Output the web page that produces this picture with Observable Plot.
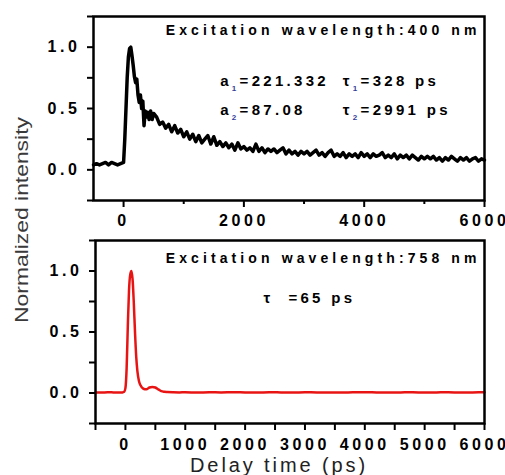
<!DOCTYPE html>
<html>
<head>
<meta charset="utf-8">
<script src="https://cdn.jsdelivr.net/npm/d3@7"></script>
<script src="https://cdn.jsdelivr.net/npm/@observablehq/plot@0.6"></script>
<style>
  html, body { margin: 0; padding: 0; background: #fff; }
  #wrap { position: relative; width: 505px; height: 475px; background: #fff; overflow: hidden; }
  #top { position: absolute; left: 0; top: 0; }
  #bot { position: absolute; left: 0; top: 230px; }
  #ylab { position: absolute; left: 22px; top: 220px; white-space: nowrap;
          transform: translate(-50%, -50%) rotate(-90deg) scaleX(1.27);
          font: 18px "Liberation Sans", Arial, sans-serif; color: #3a3a3a; line-height: 1; }
</style>
</head>
<body>
<div id="wrap">
  <div id="top"></div>
  <div id="bot"></div>
  <div id="ylab">Normalized intensity</div>
</div>
<script>
// ---------- data ----------
const titleTop = "Excitation wavelength:400 nm";
const titleBot = "Excitation wavelength:758 nm";
const annA1 = "a₁=221.332";
const annT1 = "τ₁=328 ps";
const annA2 = "a₂=87.08";
const annT2 = "τ₂=2991 ps";
const annBot = "τ  =65 ps";
const xLabel = "Delay time (ps)";
const yLabel = "Normalized intensity";

const yMajor = [0, 0.5, 1.0];
const yMinor = [-0.25, 0.25, 0.75, 1.25];
const xMajorTop = [0, 2000, 4000, 6000];
const xMinorTop = [1000, 3000, 5000];
const xMajorBot = [0, 1000, 2000, 3000, 4000, 5000, 6000];
const xMinorBot = [-500, 500, 1500, 2500, 3500, 4500, 5500];

// 400 nm excitation (black trace)
const tTop = [
  -500,-450,-400,-350,-300,-250,-200,-150,-100,-50,
  0,20,40,60,80,100,120,140,160,180,
  200,220,240,260,280,300,320,340,360,380,
  400,425,450,475,500,
  550,600,650,700,750,800,850,900,950,1000,
  1050,1100,1150,1200,1250,1300,1350,1400,1450,1500,
  1550,1600,1650,1700,1750,1800,1850,1900,1950,2000,
  2050,2100,2150,2200,2250,2300,2350,2400,2450,2500,
  2550,2600,2650,2700,2750,2800,2850,2900,2950,3000,
  3050,3100,3150,3200,3250,3300,3350,3400,3450,3500,
  3550,3600,3650,3700,3750,3800,3850,3900,3950,4000,
  4050,4100,4150,4200,4250,4300,4350,4400,4450,4500,
  4550,4600,4650,4700,4750,4800,4850,4900,4950,5000,
  5050,5100,5150,5200,5250,5300,5350,5400,5450,5500,
  5550,5600,5650,5700,5750,5800,5850,5900,5950,6000
];
const vTop = [
  0.04,0.05,0.04,0.05,0.06,0.04,0.06,0.05,0.04,0.05,
  0.06,0.25,0.50,0.75,0.92,0.99,1.00,0.93,0.85,0.76,
  0.71,0.74,0.61,0.55,0.61,0.50,0.56,0.36,0.48,0.43,
  0.47,0.41,0.48,0.41,0.46,
  0.43,0.37,0.39,0.34,0.37,0.31,0.36,0.30,0.33,0.27,
  0.31,0.25,0.29,0.23,0.28,0.22,0.25,0.28,0.21,0.27,
  0.20,0.23,0.19,0.22,0.18,0.21,0.16,0.22,0.17,0.19,
  0.16,0.18,0.15,0.21,0.15,0.18,0.14,0.17,0.15,0.17,
  0.14,0.16,0.18,0.13,0.16,0.13,0.15,0.12,0.15,0.13,
  0.15,0.12,0.14,0.16,0.12,0.14,0.11,0.14,0.16,0.11,
  0.13,0.11,0.14,0.10,0.13,0.11,0.13,0.10,0.14,0.11,
  0.13,0.10,0.13,0.11,0.12,0.14,0.10,0.12,0.10,0.13,
  0.09,0.12,0.10,0.12,0.09,0.12,0.10,0.08,0.11,0.09,
  0.11,0.09,0.11,0.08,0.10,0.07,0.10,0.08,0.11,0.09,
  0.07,0.10,0.08,0.10,0.07,0.09,0.10,0.07,0.09,0.08
];

// 758 nm excitation (red trace)
const tBot = [
  -500,-400,-300,-200,-100,-50,-20,0,
  20,40,60,80,100,120,140,160,180,200,
  225,250,300,350,400,450,500,550,600,650,700,
  800,900,1000,
  1200,1400,1600,1800,2000,2200,2400,2600,2800,3000,
  3200,3400,3600,3800,4000,4200,4400,4600,4800,5000,
  5200,5400,5600,5800,6000
];
const vBot = [
  0.005,0.004,0.006,0.005,0.004,0.005,0.01,0.04,
  0.20,0.55,0.84,0.97,1.00,0.93,0.74,0.50,0.30,0.18,
  0.10,0.065,0.035,0.03,0.045,0.05,0.045,0.03,0.015,0.01,0.008,
  0.006,0.005,0.006,
  0.004,0.006,0.005,0.007,0.005,0.004,0.006,0.005,0.004,0.006,
  0.005,0.005,0.004,0.006,0.007,0.005,0.004,0.005,0.006,0.004,
  0.005,0.006,0.004,0.005,0.006
];

const topData = tTop.map((t, i) => ({t, v: vTop[i]}));
const botData = tBot.map((t, i) => ({t, v: vBot[i]}));

// ---------- fonts ----------
const FAM = '"Liberation Sans", Arial, sans-serif';
const S = {tick: 16, tickLs: 3.6, title: 14, titleLs: 4.1, ann: 15, annLs: 3.3, sub: 8};

const yDomain = [-0.25, 1.25];
const xDomain = [-500, 6000];

function finish(svg) {
  const sel = d3.select(svg);
  sel.selectAll("text").each(function() {
    const t = d3.select(this);
    const s = this.textContent;
    if (s.startsWith("Excitation")) t.style("letter-spacing", S.titleLs + "px");
    else if (s === xLabel) t.style("letter-spacing", "2.9px");
    else if (s.includes("=")) {
      t.style("letter-spacing", S.annLs + "px");
      const m = s.match(/^(.)([₁₂])(.*)$/);
      if (m) {
        t.text(null);
        t.append("tspan").text(m[1]);
        t.append("tspan").attr("dy", 5).attr("font-size", S.sub).attr("fill", "#34409a")
          .text(m[2] === "₁" ? "1" : "2");
        t.append("tspan").attr("dy", -5).text(m[3]);
      }
    } else t.style("letter-spacing", S.tickLs + "px");
  });
  return svg;
}

const baseStyle = {fontFamily: FAM, fontWeight: "bold", color: "black", background: "transparent", overflow: "visible"};

const topPlot = Plot.plot({
  width: 505, height: 230,
  marginLeft: 93, marginRight: 21, marginTop: 16, marginBottom: 30,
  style: baseStyle,
  x: {domain: xDomain},
  y: {domain: yDomain},
  marks: [
    Plot.line(topData, {x: "t", y: "v", stroke: "black", strokeWidth: 3.5, strokeLinejoin: "round"}),
    Plot.frame({stroke: "black", strokeWidth: 2.5}),
    Plot.axisX({ticks: xMajorTop, tickSize: 7, tickPadding: 7, tickFormat: d => String(d), fontSize: S.tick, strokeWidth: 2, label: null}),
    Plot.axisX({ticks: xMinorTop, tickSize: 4, tickFormat: () => "", strokeWidth: 2, label: null}),
    Plot.axisY({ticks: yMajor, tickSize: 6, tickPadding: 7, tickFormat: d => d.toFixed(1), fontSize: S.tick, strokeWidth: 2, label: null}),
    Plot.axisY({ticks: yMinor, tickSize: 6, tickFormat: () => "", strokeWidth: 2, label: null}),
    Plot.text([titleTop], {text: d => d, frameAnchor: "top-right", dx: -4, dy: 14, lineAnchor: "middle", textAnchor: "end", fontSize: S.title}),
    Plot.text([annA1], {text: d => d, x: 1606, y: 0.72, textAnchor: "start", lineAnchor: "middle", fontSize: S.ann}),
    Plot.text([annA2], {text: d => d, x: 1606, y: 0.49, textAnchor: "start", lineAnchor: "middle", fontSize: S.ann}),
    Plot.text([annT1], {text: d => d, x: 3645, y: 0.72, textAnchor: "start", lineAnchor: "middle", fontSize: S.ann}),
    Plot.text([annT2], {text: d => d, x: 3645, y: 0.49, textAnchor: "start", lineAnchor: "middle", fontSize: S.ann})
  ]
});

const botPlot = Plot.plot({
  width: 505, height: 245,
  marginLeft: 95, marginRight: 21, marginTop: 10, marginBottom: 52,
  style: baseStyle,
  x: {domain: xDomain},
  y: {domain: yDomain},
  marks: [
    Plot.line(botData, {x: "t", y: "v", stroke: "#e81414", strokeWidth: 2.5, strokeLinejoin: "round", curve: "monotone-x"}),
    Plot.frame({stroke: "black", strokeWidth: 2.5}),
    Plot.axisX({ticks: xMajorBot, tickSize: 7, tickPadding: 8, tickFormat: d => String(d), fontSize: S.tick, strokeWidth: 2, label: null}),
    Plot.axisX({ticks: xMinorBot, tickSize: 7, tickFormat: () => "", strokeWidth: 2, label: null}),
    Plot.axisY({ticks: yMajor, tickSize: 6, tickPadding: 7, tickFormat: d => d.toFixed(1), fontSize: S.tick, strokeWidth: 2, label: null}),
    Plot.axisY({ticks: yMinor, tickSize: 6, tickFormat: () => "", strokeWidth: 2, label: null}),
    Plot.text([titleBot], {text: d => d, frameAnchor: "top-right", dx: -4, dy: 18, lineAnchor: "middle", textAnchor: "end", fontSize: S.title}),
    Plot.text([annBot], {text: d => d, x: 2307, y: 0.775, textAnchor: "start", lineAnchor: "middle", fontSize: S.ann}),
    Plot.text([xLabel], {text: d => d, frameAnchor: "bottom", dx: -11, dy: 42, lineAnchor: "middle", fontSize: 20, fontWeight: "normal", fill: "#222"})
  ]
});

document.getElementById("top").appendChild(finish(topPlot));
document.getElementById("bot").appendChild(finish(botPlot));
document.getElementById("ylab").textContent = yLabel;
</script>
</body>
</html>
